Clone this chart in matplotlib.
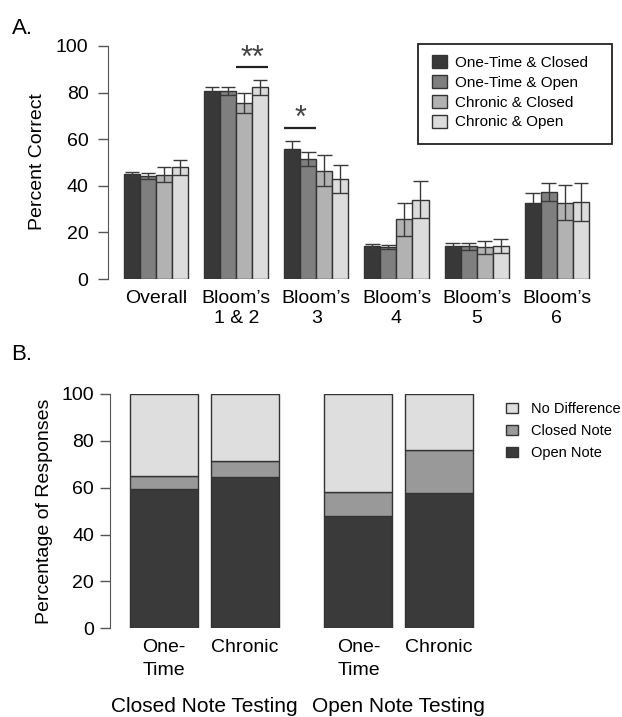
import matplotlib
matplotlib.use("Agg")
import matplotlib.pyplot as plt
from matplotlib.patches import Patch, Rectangle
import numpy as np

plt.rcParams['font.family'] = ['Liberation Sans', 'DejaVu Sans']

# ---------------- data ----------------
groups_a = ["Overall", "Bloom\u2019s\n1 & 2", "Bloom\u2019s\n3", "Bloom\u2019s\n4", "Bloom\u2019s\n5", "Bloom\u2019s\n6"]
series_a = ["One-Time & Closed", "One-Time & Open", "Chronic & Closed", "Chronic & Open"]
onetime_closed = [45.1, 80.8, 56.0, 14.0, 14.0, 32.8]
onetime_open   = [44.2, 80.8, 51.4, 13.6, 14.0, 37.3]
chronic_closed = [44.8, 75.5, 46.5, 25.6, 13.6, 32.8]
chronic_open   = [47.9, 82.3, 43.0, 34.0, 14.3, 33.0]
se_onetime_closed = [1.0, 1.8, 3.2, 1.0, 1.4, 4.1]
se_onetime_open   = [1.1, 1.8, 3.0, 0.8, 1.4, 4.0]
se_chronic_closed = [3.2, 4.2, 6.8, 7.0, 2.8, 7.5]
se_chronic_open   = [3.3, 3.3, 6.0, 8.0, 3.0, 8.0]
yticks_a = [0, 20, 40, 60, 80, 100]

cats_b = ["One-\nTime", "Chronic", "One-\nTime", "Chronic"]
testing_b = ["Closed Note Testing", "Open Note Testing"]
open_note = [59.5, 64.5, 48.0, 57.7]
closed_note = [5.7, 7.1, 10.0, 18.2]
no_difference = [34.8, 28.4, 42.0, 24.1]
yticks_b = [0, 20, 40, 60, 80, 100]

# ---------------- figure ----------------
W, H = 622, 717
fig = plt.figure(figsize=(W / 100, H / 100), dpi=100)

def fx(px):
    return px / W

def fy(py):
    return 1 - py / H

edge = '#333333'
cols_a = ['#383838', '#7f7f7f', '#b2b2b2', '#dcdcdc']

# ---------- Panel A ----------
axA = fig.add_axes([fx(108), fy(279), fx(612) - fx(108), (279 - 46) / H])
axA.set_xlim(0, 31.45)
axA.set_ylim(0, 100)
vals = [onetime_closed, onetime_open, chronic_closed, chronic_open]
ses = [se_onetime_closed, se_onetime_open, se_chronic_closed, se_chronic_open]
for j in range(4):
    for g in range(len(groups_a)):
        left = 1 + 5 * g + j
        m = vals[j][g]
        s = ses[j][g]
        axA.bar(left, m, width=1, align='edge', color=cols_a[j], edgecolor=edge,
                linewidth=1.0, zorder=2)
        cx = left + 0.5
        axA.vlines(cx, m - s, m + s, color='#3a3a3a', lw=1.0, zorder=3)
        axA.hlines(m + s, cx - 0.45, cx + 0.45, color='#3a3a3a', lw=1.0, zorder=3)
        axA.hlines(m - s, left, left + 1, color='#3a3a3a', lw=1.0, zorder=3)

# significance markers
axA.hlines(91, 8, 10, color='#222222', lw=1.6, clip_on=False)
axA.text(9, 91.2, "**", ha='center', va='baseline', fontsize=22, color='#444444', clip_on=False)
axA.hlines(65, 11, 13, color='#222222', lw=1.6, clip_on=False)
axA.text(12, 65.2, "*", ha='center', va='baseline', fontsize=22, color='#444444', clip_on=False)

axA.set_xticks([1 + 5 * g + 2 for g in range(len(groups_a))])
axA.set_xticklabels(groups_a, fontsize=14, linespacing=1.25)
axA.tick_params(axis='x', length=0, pad=8)
axA.set_yticks(yticks_a)
axA.set_yticklabels([str(v) for v in yticks_a], fontsize=14)
axA.tick_params(axis='y', length=7, width=1, color='#555555', pad=7, direction='out')
for sp in ['top', 'right', 'bottom']:
    axA.spines[sp].set_visible(False)
axA.spines['left'].set_color('#555555')
axA.spines['left'].set_bounds(0, 100)

handles_a = [Patch(facecolor=c, edgecolor=edge, linewidth=1.0) for c in cols_a]
fig.legend(handles_a, series_a, loc='upper left',
           bbox_to_anchor=(fx(432), fy(55)), bbox_transform=fig.transFigure,
           fontsize=11, frameon=False,
           handlelength=0.95, handleheight=0.95, handletextpad=0.55,
           labelspacing=0.33, borderpad=0, borderaxespad=0)
fig.add_artist(Rectangle((fx(418), fy(144)), fx(612) - fx(418), (144 - 44) / H,
                         transform=fig.transFigure, fill=False, edgecolor='#222222',
                         linewidth=1.3))

fig.text(fx(22), fy(28), "A.", fontsize=16, ha='center', va='center')
fig.text(fx(37), fy(162), "Percent Correct", rotation=90, fontsize=14, ha='center', va='center')

# ---------- Panel B ----------
pxu = 68.0
axB = fig.add_axes([fx(110), fy(628.3), 5.6 * pxu / W, (628.3 - 394) / H])
axB.set_xlim(0, 5.6)
axB.set_ylim(0, 100)
centers_b = [0.794, 1.985, 3.654, 4.838]
cols_b = ['#3a3a3a', '#999999', '#dedede']
stack = [open_note, closed_note, no_difference]
bottom = np.zeros(len(cats_b))
for k in range(3):
    axB.bar(centers_b, stack[k], bottom=bottom, width=1.0, color=cols_b[k],
            edgecolor=edge, linewidth=1.0, zorder=2)
    bottom = bottom + np.array(stack[k])

axB.set_xticks(centers_b)
axB.set_xticklabels(cats_b, fontsize=14, linespacing=1.45)
axB.tick_params(axis='x', length=0, pad=8)
axB.set_yticks(yticks_b)
axB.set_yticklabels([str(v) for v in yticks_b], fontsize=14)
axB.tick_params(axis='y', length=7, width=1, color='#555555', pad=4.5, direction='out')
for sp in ['top', 'right', 'bottom']:
    axB.spines[sp].set_visible(False)
axB.spines['left'].set_color('#555555')
axB.spines['left'].set_bounds(0, 100)

grp_centers = [(centers_b[0] + centers_b[1]) / 2, (centers_b[2] + centers_b[3]) / 2]
ylab_frac = -(707 - 628.3) / (628.3 - 394)
for gc, lab in zip(grp_centers, testing_b):
    axB.text(gc, ylab_frac, lab, transform=axB.get_xaxis_transform(), ha='center',
             va='center', fontsize=15)

labels_b = ["No Difference", "Closed Note", "Open Note"]
handles_b = [Patch(facecolor=cols_b[2], edgecolor=edge, linewidth=1.0),
             Patch(facecolor=cols_b[1], edgecolor=edge, linewidth=1.0),
             Patch(facecolor=cols_b[0], edgecolor=edge, linewidth=1.0)]
fig.legend(handles_b, labels_b, loc='upper left',
           bbox_to_anchor=(fx(503), fy(399)), bbox_transform=fig.transFigure,
           fontsize=10.5, frameon=False, handlelength=0.8, handleheight=0.65,
           handletextpad=0.9, labelspacing=0.55, borderaxespad=0, borderpad=0.2)

fig.text(fx(22), fy(355), "B.", fontsize=16, ha='center', va='center')
fig.text(fx(45), fy(511), "Percentage of Responses", rotation=90, fontsize=14,
         ha='center', va='center')

fig.savefig("out.png", dpi=100)
